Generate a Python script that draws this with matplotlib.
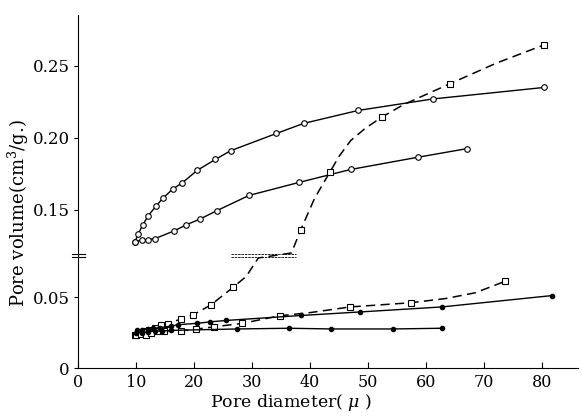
import matplotlib
matplotlib.use("Agg")
import matplotlib.pyplot as plt
import numpy as np

# broken y axis: values between BRK_LO and BRK_HI are squeezed out,
# the upper part is drawn slightly stretched (as in the original)
BRK_LO = 0.08
BRK_HI = 0.119
UP_K = 1.014

# upper open-circle curve
a_x = [9.8, 10.4, 11.15, 12.1, 13.4, 14.6, 16.3, 17.9, 20.6, 23.7, 26.3, 34.2, 38.9, 48.3, 61.2, 80.4]
a_v = [0.1276, 0.1333, 0.1394, 0.1458, 0.1523, 0.1579, 0.1643, 0.1685, 0.1775, 0.185, 0.191,
       0.203, 0.210, 0.219, 0.227, 0.235]

# lower open-circle curve
b_x = [9.8, 11.0, 12.0, 13.3, 16.6, 18.7, 21.0, 24.0, 29.5, 38.1, 47.0, 58.6, 67.1]
b_v = [0.1276, 0.129, 0.1292, 0.130, 0.1354, 0.1396, 0.1435, 0.1495, 0.160, 0.169, 0.178, 0.1865, 0.1925]

# dashed square curve crossing the break (markers, then traced line)
c_pts_x = [9.8, 10.6, 11.4, 12.3, 13.3, 14.3, 15.6, 17.8, 19.8, 22.9, 26.8, 38.4, 43.4, 52.4, 64.1, 80.4]
c_pts_v = [0.0235, 0.025, 0.026, 0.027, 0.028, 0.030, 0.031, 0.0345, 0.0373, 0.0444, 0.057,
           0.136, 0.176, 0.2144, 0.2375, 0.2646]
c_line_x = [9.8, 12.3, 14.3, 17.8, 19.8, 22.9, 26.8, 29.0, 31.1, 36.8, 38.4, 40.8, 43.4, 45.0,
            47.0, 49.5, 52.4, 56.1, 64.1, 72.2, 80.4]
c_line_v = [0.0235, 0.027, 0.030, 0.0345, 0.0373, 0.0444, 0.057, 0.0645, 0.0775, 0.12, 0.136,
            0.158, 0.176, 0.187, 0.198, 0.2065, 0.2144, 0.223, 0.2375, 0.252, 0.2646]

# lower dashed square curve
d_pts_x = [10.0, 10.8, 11.7, 12.6, 13.6, 14.8, 17.7, 20.3, 23.4, 28.3, 34.8, 46.9, 57.5, 73.6]
d_pts_v = [0.023, 0.024, 0.0235, 0.025, 0.026, 0.026, 0.0262, 0.0273, 0.029, 0.0314, 0.0368,
           0.043, 0.046, 0.061]
d_line_x = [10.0, 14.8, 17.7, 20.3, 23.4, 28.3, 34.8, 40.0, 46.9, 57.5, 63.5, 68.5, 73.6]
d_line_v = [0.023, 0.026, 0.0262, 0.0273, 0.029, 0.0314, 0.0368, 0.039, 0.043, 0.046, 0.049, 0.053, 0.061]

# upper solid filled-dot line
e_x = [10.2, 11.0, 12.0, 13.0, 14.2, 16.0, 17.3, 20.6, 22.8, 25.6, 38.5, 48.7, 62.7, 81.7]
e_v = [0.0265, 0.027, 0.0275, 0.028, 0.0285, 0.0295, 0.0305, 0.0315, 0.0325, 0.0335, 0.037,
       0.0395, 0.043, 0.051]

# lower solid filled-dot line
f_x = [10.0, 11.0, 12.0, 13.2, 14.5, 16.0, 27.5, 36.3, 43.7, 54.4, 62.7]
f_v = [0.0245, 0.025, 0.0255, 0.026, 0.026, 0.0265, 0.0275, 0.028, 0.0275, 0.0275, 0.028]

x_ticks = [0, 10, 20, 30, 40, 50, 60, 70, 80]
y_ticks = [0, 0.05, 0.15, 0.20, 0.25]
y_tick_labels = ["0", "0.05", "0.15", "0.20", "0.25"]


def fwd(v):
    v = np.asarray(v, dtype=float)
    return np.where(v <= BRK_LO, v,
                    np.where(v >= BRK_HI, BRK_LO + (v - BRK_HI) * UP_K, BRK_LO))


def inv(y):
    y = np.asarray(y, dtype=float)
    return np.where(y <= BRK_LO, y, BRK_HI + (y - BRK_LO) / UP_K)


plt.rcParams["font.family"] = "DejaVu Serif"
plt.rcParams["mathtext.fontset"] = "dejavuserif"

fig = plt.figure(figsize=(5.82, 4.17), dpi=100)
ax = fig.add_axes([0.134, 0.1175, 0.859, 0.8465])
ax.set_yscale("function", functions=(fwd, inv))

lw = 1.0
ax.plot(a_x, a_v, "-", color="k", lw=lw, marker="o", ms=4, mfc="white", mec="k", mew=0.8)
ax.plot(b_x, b_v, "-", color="k", lw=lw, marker="o", ms=4, mfc="white", mec="k", mew=0.8)
ax.plot(c_line_x, c_line_v, "--", color="k", lw=lw + 0.1, dashes=(6, 3.5))
ax.plot(c_pts_x, c_pts_v, "s", ms=4.6, mfc="white", mec="k", mew=0.8)
ax.plot(d_line_x, d_line_v, "--", color="k", lw=lw + 0.1, dashes=(6, 3.5))
ax.plot(d_pts_x, d_pts_v, "s", ms=4.6, mfc="white", mec="k", mew=0.8)
ax.plot(e_x, e_v, "-", color="k", lw=lw, marker="o", ms=3, mfc="k", mec="k")
ax.plot(f_x, f_v, "-", color="k", lw=lw, marker="o", ms=3, mfc="k", mec="k")

# break lines drawn across the plot and on the axis
for yb in (0.0801, 0.0785):
    ax.plot([26.4, 37.6], [yb, yb], color="k", lw=0.6, ls=(0, (3, 1)))
    ax.plot([-0.012, 0.014], [yb, yb], color="k", lw=0.8,
            transform=ax.get_yaxis_transform(), clip_on=False)

ax.set_xlim(0, 86.2)
ax.set_ylim(0, 0.2853)
ax.set_xticks(x_ticks)
ax.set_yticks(y_ticks)
ax.set_yticklabels(y_tick_labels)
ax.minorticks_off()

ax.spines["top"].set_visible(False)
ax.spines["right"].set_visible(False)
ax.tick_params(axis="x", direction="in", length=4, pad=4.5, labelsize=11.5)
ax.tick_params(axis="y", direction="out", length=3, pad=3, labelsize=12)

ax.set_xlabel(r"Pore diameter( $\mu$ )", fontsize=12.5)
ax.xaxis.set_label_coords(0.426, -0.068)
ax.set_ylabel(r"Pore volume(cm$^3$/g.)", fontsize=13)
ax.yaxis.set_label_coords(-0.094, 0.439)

fig.savefig("out.png", dpi=100)
